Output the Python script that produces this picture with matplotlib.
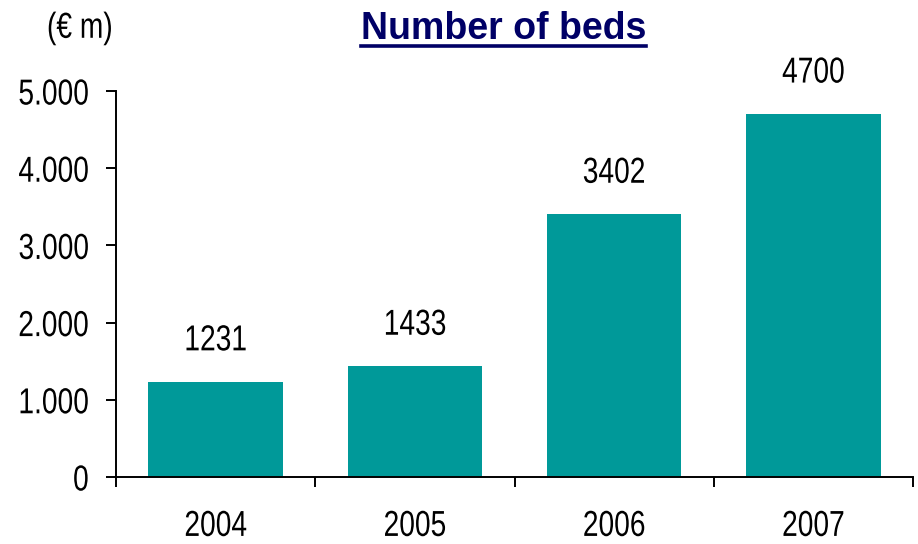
import matplotlib
matplotlib.use("Agg")
import matplotlib.pyplot as plt
from matplotlib.patheffects import AbstractPathEffect
from matplotlib.transforms import Affine2D
from matplotlib.ticker import FixedLocator, NullFormatter

years = ["2004", "2005", "2006", "2007"]
beds = [1231, 1433, 3402, 4700]
y_ticks = [0, 1000, 2000, 3000, 4000, 5000]
y_tick_labels = ["0", "1.000", "2.000", "3.000", "4.000", "5.000"]

FONT = "Liberation Sans"
SIZE = 26


class Squeeze(AbstractPathEffect):
    """Draw text horizontally condensed, keeping it pinned at one edge or its centre."""

    def __init__(self, sx=0.78, anchor="center"):
        super().__init__()
        self.sx = sx
        self.anchor = anchor

    def draw_path(self, renderer, gc, tpath, affine, rgbFace=None):
        ext = affine.transform_path(tpath).get_extents()
        if self.anchor == "right":
            cx = ext.x1
        elif self.anchor == "left":
            cx = ext.x0
        else:
            cx = 0.5 * (ext.x0 + ext.x1)
        squeezed = affine + Affine2D().translate(-cx, 0).scale(self.sx, 1).translate(cx, 0)
        renderer.draw_path(gc, tpath, squeezed, rgbFace)


fig = plt.figure(figsize=(9.18, 5.44), dpi=100)
ax = fig.add_axes([0.1264, 0.1232, 0.8682, 0.7095])

x = range(len(years))
ax.bar(x, beds, width=0.675, color="#009999", zorder=2)
for xi, v in zip(x, beds):
    ax.annotate(str(v), (xi, v), xytext=(0, 17), textcoords="offset points",
                ha="center", va="bottom", fontsize=SIZE, family=FONT,
                path_effects=[Squeeze()])

ax.set_xlim(-0.5, len(years) - 0.5)
ax.set_ylim(0, 5000)
ax.set_yticks(y_ticks)
ax.set_yticklabels(y_tick_labels, family=FONT, fontsize=SIZE)
for lab in ax.get_yticklabels():
    lab.set_path_effects([Squeeze(anchor="right")])

ax.xaxis.set_major_locator(FixedLocator([i - 0.5 for i in range(len(years) + 1)]))
ax.xaxis.set_major_formatter(NullFormatter())
ax.set_xticks(list(x), minor=True)
ax.set_xticklabels(years, minor=True, family=FONT, fontsize=SIZE)
for lab in ax.get_xticklabels(minor=True):
    lab.set_path_effects([Squeeze()])
ax.tick_params(axis="x", which="minor", length=0, pad=23)
ax.tick_params(axis="x", which="major", length=7.5, width=1.4, direction="out")
ax.tick_params(axis="y", length=7.5, width=1.4, direction="out", pad=12)

for s in ["top", "right"]:
    ax.spines[s].set_visible(False)
for s in ["left", "bottom"]:
    ax.spines[s].set_linewidth(1.4)

fig.text(0.0871, 0.948, "(€ m)", family=FONT, fontsize=SIZE, ha="center", va="center",
         path_effects=[Squeeze()])
title = fig.text(0.5485, 0.947, "Number of beds", family=FONT, weight="bold",
                 fontsize=27, color="#000066", ha="center", va="center")
fig.canvas.draw()
bb = title.get_window_extent()
# underline under the title
fig.add_artist(plt.Line2D([bb.x0 / fig.bbox.width, bb.x1 / fig.bbox.width],
                          [(bb.y0 + 1) / fig.bbox.height] * 2,
                          color="#000066", linewidth=2.6, transform=fig.transFigure))

fig.savefig("out.png", dpi=100)
